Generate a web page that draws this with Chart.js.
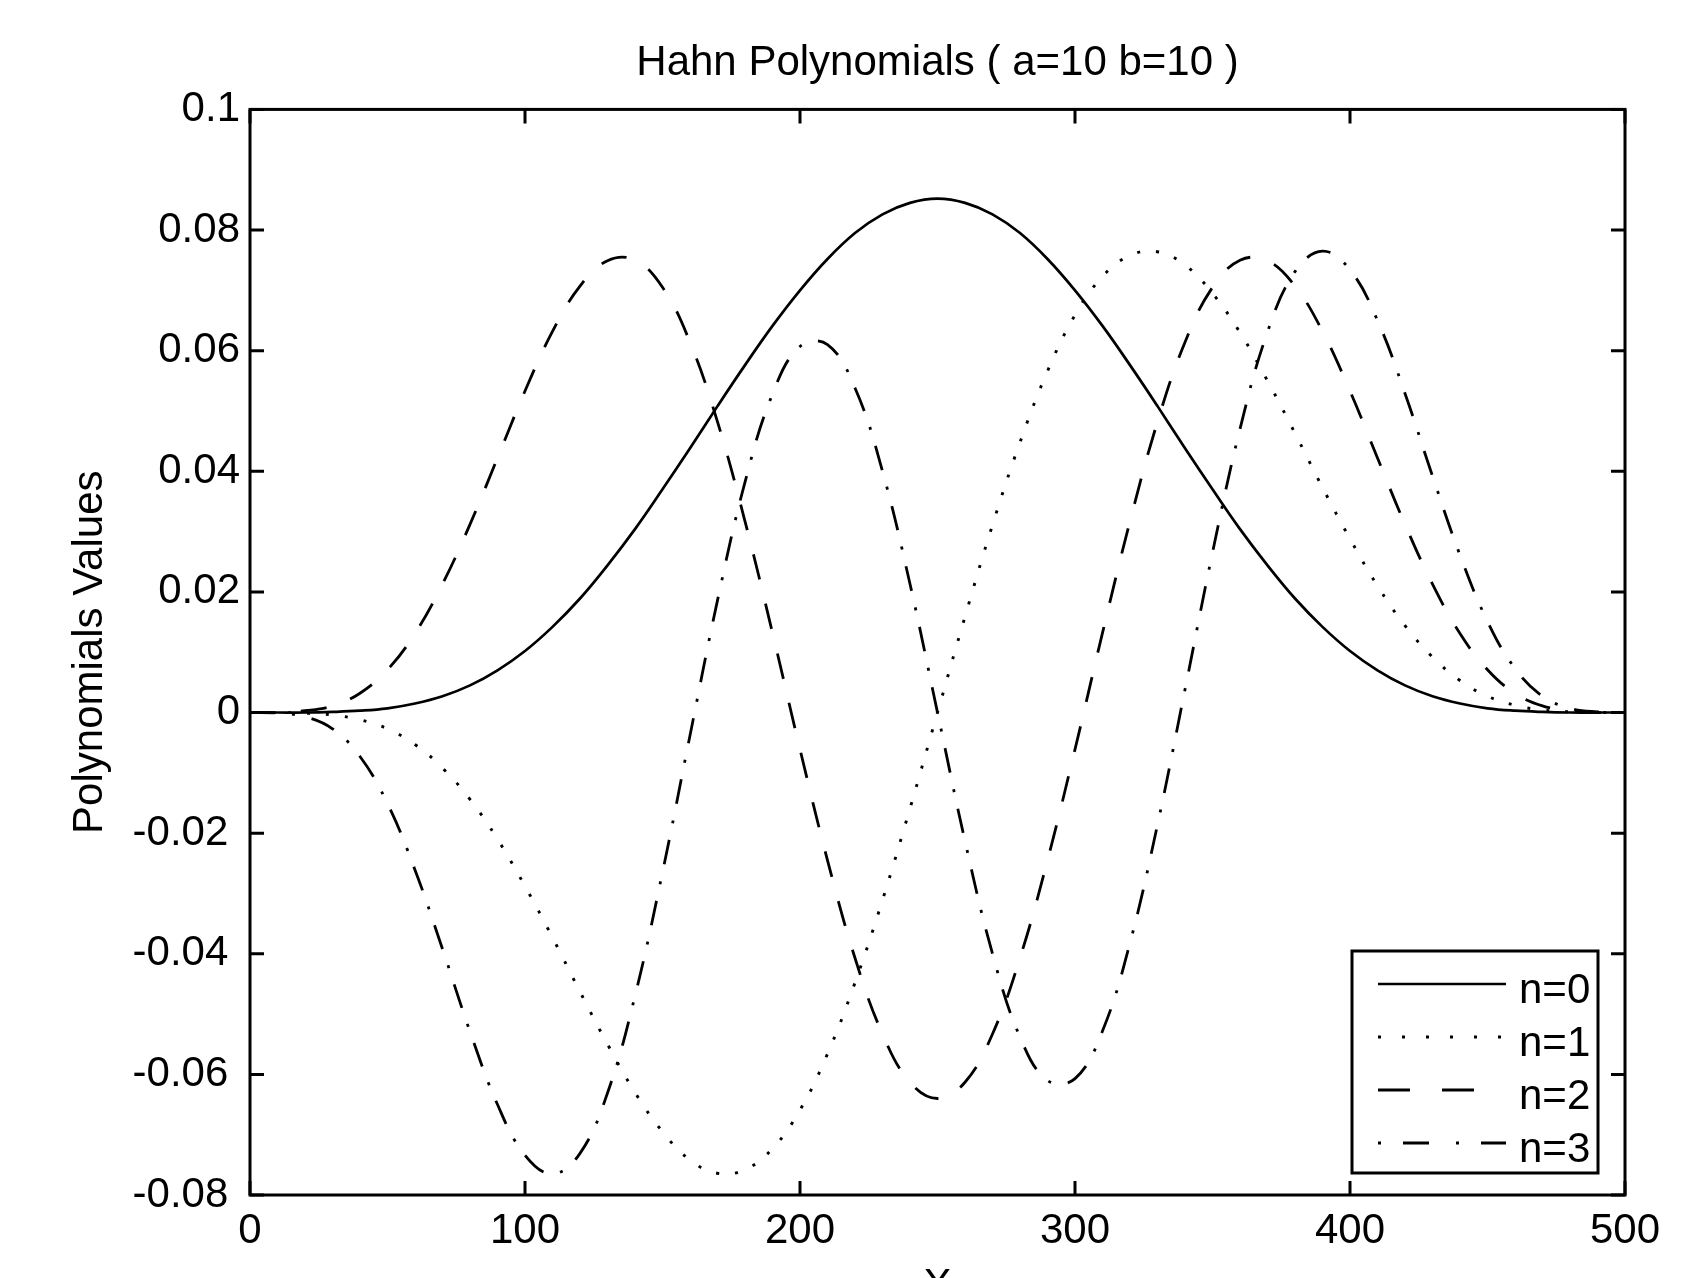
<!DOCTYPE html>
<html>
<head>
<meta charset="utf-8">
<script src="https://cdn.jsdelivr.net/npm/chart.js@4.4.1/dist/chart.umd.min.js"></script>
<style>
  html, body { margin: 0; padding: 0; background: #fff; overflow: hidden; }
  #wrap { width: 1693px; height: 1320px; }
</style>
</head>
<body>
<div id="wrap"><canvas id="hahnChart" width="1693" height="1320"></canvas></div>
<script>
// x positions (every 10 units)
const xValues = [0, 10, 20, 30, 40, 50, 60, 70, 80, 90, 100, 110, 120, 130, 140, 150, 160, 170, 180, 190, 200,
  210, 220, 230, 240, 250, 260, 270, 280, 290, 300, 310, 320, 330, 340, 350, 360, 370, 380, 390, 400,
  410, 420, 430, 440, 450, 460, 470, 480, 490, 500];

// values
const n0 = [0, 0, 0, 0.0001, 0.0003, 0.0007, 0.0015, 0.0027, 0.0045, 0.0070, 0.0102, 0.0142, 0.0189, 0.0244, 0.0304,
  0.0370, 0.0438, 0.0508, 0.0576, 0.0641, 0.0700, 0.0752, 0.0795, 0.0826, 0.0845, 0.0852,
  0.0845, 0.0826, 0.0795, 0.0752, 0.0700, 0.0641, 0.0576, 0.0508, 0.0438, 0.0370, 0.0304, 0.0244, 0.0189,
  0.0142, 0.0102, 0.0070, 0.0045, 0.0027, 0.0015, 0.0007, 0.0003, 0.0001, 0, 0, 0];

const n1 = [0, 0, -0.0001, -0.0004, -0.0012, -0.0027, -0.0053, -0.0092, -0.0144, -0.0210, -0.0288, -0.0373, -0.0463,
  -0.0550, -0.0630, -0.0695, -0.0742, -0.0764, -0.0758, -0.0723, -0.0659, -0.0566, -0.0448, -0.0311, -0.0159, 0,
  0.0159, 0.0311, 0.0448, 0.0566, 0.0659, 0.0723, 0.0758, 0.0764, 0.0742, 0.0695, 0.0630, 0.0550, 0.0463,
  0.0373, 0.0288, 0.0210, 0.0144, 0.0092, 0.0053, 0.0027, 0.0012, 0.0004, 0.0001, 0, 0];

const n2 = [0, 0, 0.0003, 0.0011, 0.0032, 0.0071, 0.0131, 0.0213, 0.0312, 0.0422, 0.0533, 0.0632, 0.0707, 0.0749,
  0.0750, 0.0705, 0.0614, 0.0482, 0.0317, 0.0132, -0.0061, -0.0245, -0.0407, -0.0533, -0.0613, -0.0640,
  -0.0613, -0.0533, -0.0407, -0.0245, -0.0061, 0.0132, 0.0317, 0.0482, 0.0614, 0.0705, 0.0750, 0.0749, 0.0707,
  0.0632, 0.0533, 0.0422, 0.0312, 0.0213, 0.0131, 0.0071, 0.0032, 0.0011, 0.0003, 0, 0];

const n3 = [0, -0.0001, -0.0007, -0.0027, -0.0073, -0.0151, -0.0261, -0.0392, -0.0529, -0.0650, -0.0734, -0.0765,
  -0.0731, -0.0631, -0.0470, -0.0265, -0.0038, 0.0186, 0.0382, 0.0528, 0.0607, 0.0610, 0.0538, 0.0400, 0.0213, 0,
  -0.0213, -0.0400, -0.0538, -0.0610, -0.0607, -0.0528, -0.0382, -0.0186, 0.0038, 0.0265, 0.0470, 0.0631,
  0.0731, 0.0765, 0.0734, 0.0650, 0.0529, 0.0392, 0.0261, 0.0151, 0.0073, 0.0027, 0.0007, 0.0001, 0];

const seriesLabels = ['n=0', 'n=1', 'n=2', 'n=3'];
const xTickValues = [0, 100, 200, 300, 400, 500];
const xTickLabels = ['0', '100', '200', '300', '400', '500'];
const yTickValues = [-0.08, -0.06, -0.04, -0.02, 0, 0.02, 0.04, 0.06, 0.08, 0.1];
const yTickLabels = ['-0.08', '-0.06', '-0.04', '-0.02', '0', '0.02', '0.04', '0.06', '0.08', '0.1'];

const FONT = "'Liberation Sans', Arial, Helvetica, sans-serif";
Chart.defaults.color = '#000';
Chart.defaults.font.family = FONT;

const lineDash = [[], [3, 16], [26, 25], [25, 17, 3, 17]];
const legendDash = [[], [3, 21], [32, 32], [3, 22, 26, 27]];
const lineWidths = [2.7, 2.9, 2.8, 2.8];

// box round the plot with inward ticks, like MATLAB
const boxAndTicks = {
  id: 'boxAndTicks',
  afterDatasetsDraw(chart) {
    const { ctx, chartArea: a, scales: { x, y } } = chart;
    ctx.save();
    ctx.strokeStyle = '#000';
    ctx.lineWidth = 3;
    ctx.setLineDash([]);
    ctx.beginPath();
    x.ticks.forEach(t => {
      const px = x.getPixelForValue(t.value);
      ctx.moveTo(px, a.bottom); ctx.lineTo(px, a.bottom - 14);
      ctx.moveTo(px, a.top); ctx.lineTo(px, a.top + 14);
    });
    y.ticks.forEach(t => {
      const py = y.getPixelForValue(t.value);
      ctx.moveTo(a.left, py); ctx.lineTo(a.left + 14, py);
      ctx.moveTo(a.right, py); ctx.lineTo(a.right - 14, py);
    });
    ctx.stroke();
    ctx.strokeRect(a.left, a.top, a.right - a.left, a.bottom - a.top);
    ctx.restore();
  }
};

// legend box in the lower right corner
const boxLegend = {
  id: 'boxLegend',
  afterDraw(chart) {
    const { ctx, chartArea: a } = chart;
    const w = 246, h = 222;
    const L = a.right - 27 - w, T = a.bottom - 22 - h;
    ctx.save();
    ctx.fillStyle = '#fff';
    ctx.fillRect(L, T, w, h);
    ctx.strokeStyle = '#000';
    ctx.lineWidth = 3;
    ctx.strokeRect(L, T, w, h);
    ctx.font = '42px ' + FONT;
    ctx.textBaseline = 'alphabetic';
    ctx.textAlign = 'left';
    chart.data.datasets.forEach((ds, i) => {
      const ly = T + 33 + 53 * i;
      ctx.setLineDash(legendDash[i]);
      ctx.lineWidth = ds.borderWidth;
      ctx.lineCap = 'butt';
      ctx.beginPath();
      ctx.moveTo(L + 26, ly);
      ctx.lineTo(L + 154, ly);
      ctx.stroke();
      ctx.setLineDash([]);
      ctx.fillStyle = '#000';
      ctx.fillText(ds.label, L + 167, ly + 19);
    });
    ctx.restore();
  }
};

const allSeries = [n0, n1, n2, n3];
const datasets = allSeries.map((vals, i) => ({
  label: seriesLabels[i],
  data: xValues.map((x, j) => ({ x: x, y: vals[j] })),
  borderColor: '#000',
  borderWidth: lineWidths[i],
  borderDash: lineDash[i],
  borderCapStyle: 'butt',
  pointRadius: 0,
  fill: false,
  tension: 0.4
}));

const ctx = document.getElementById('hahnChart').getContext('2d');
const chart = new Chart(ctx, {
  type: 'line',
  data: { datasets: datasets },
  options: {
    responsive: false,
    animation: false,
    layout: { padding: { left: 0, right: 68, top: 0, bottom: 0 } },
    plugins: {
      legend: { display: false },
      tooltip: { enabled: false },
      title: {
        display: true,
        fullSize: false,
        text: 'Hahn Polynomials ( a=10 b=10 )',
        color: '#000',
        font: { size: 42, weight: 'normal', family: FONT },
        padding: { top: 38, bottom: 21 }
      }
    },
    scales: {
      x: {
        type: 'linear',
        min: 0,
        max: 500,
        afterBuildTicks: s => { s.ticks = xTickValues.map(v => ({ value: v })); },
        afterFit: s => { s.height = 125; },
        grid: { display: false, drawTicks: false },
        border: { display: false },
        ticks: {
          padding: 11,
          maxRotation: 0,
          font: { size: 42, family: FONT },
          color: '#000',
          callback: (v, i) => xTickLabels[i]
        },
        title: {
          display: true,
          text: 'X',
          color: '#000',
          font: { size: 42, family: FONT },
          padding: { top: 0, bottom: 8 }
        }
      },
      y: {
        type: 'linear',
        min: -0.08,
        max: 0.1,
        afterBuildTicks: s => { s.ticks = yTickValues.map(v => ({ value: v })); },
        afterFit: s => { s.width = 250; },
        grid: { display: false, drawTicks: false },
        border: { display: false },
        ticks: {
          padding: 10,
          font: { size: 42, family: FONT },
          color: '#000',
          // negative labels sit a little further left in the original
          callback: (v, i) => yTickValues[i] < 0 ? yTickLabels[i] + ' ' : yTickLabels[i]
        },
        title: {
          display: true,
          text: 'Polynomials Values',
          color: '#000',
          font: { size: 42, family: FONT },
          padding: { top: 65, bottom: 0 }
        }
      }
    }
  },
  plugins: [boxAndTicks, boxLegend]
});
</script>
</body>
</html>
